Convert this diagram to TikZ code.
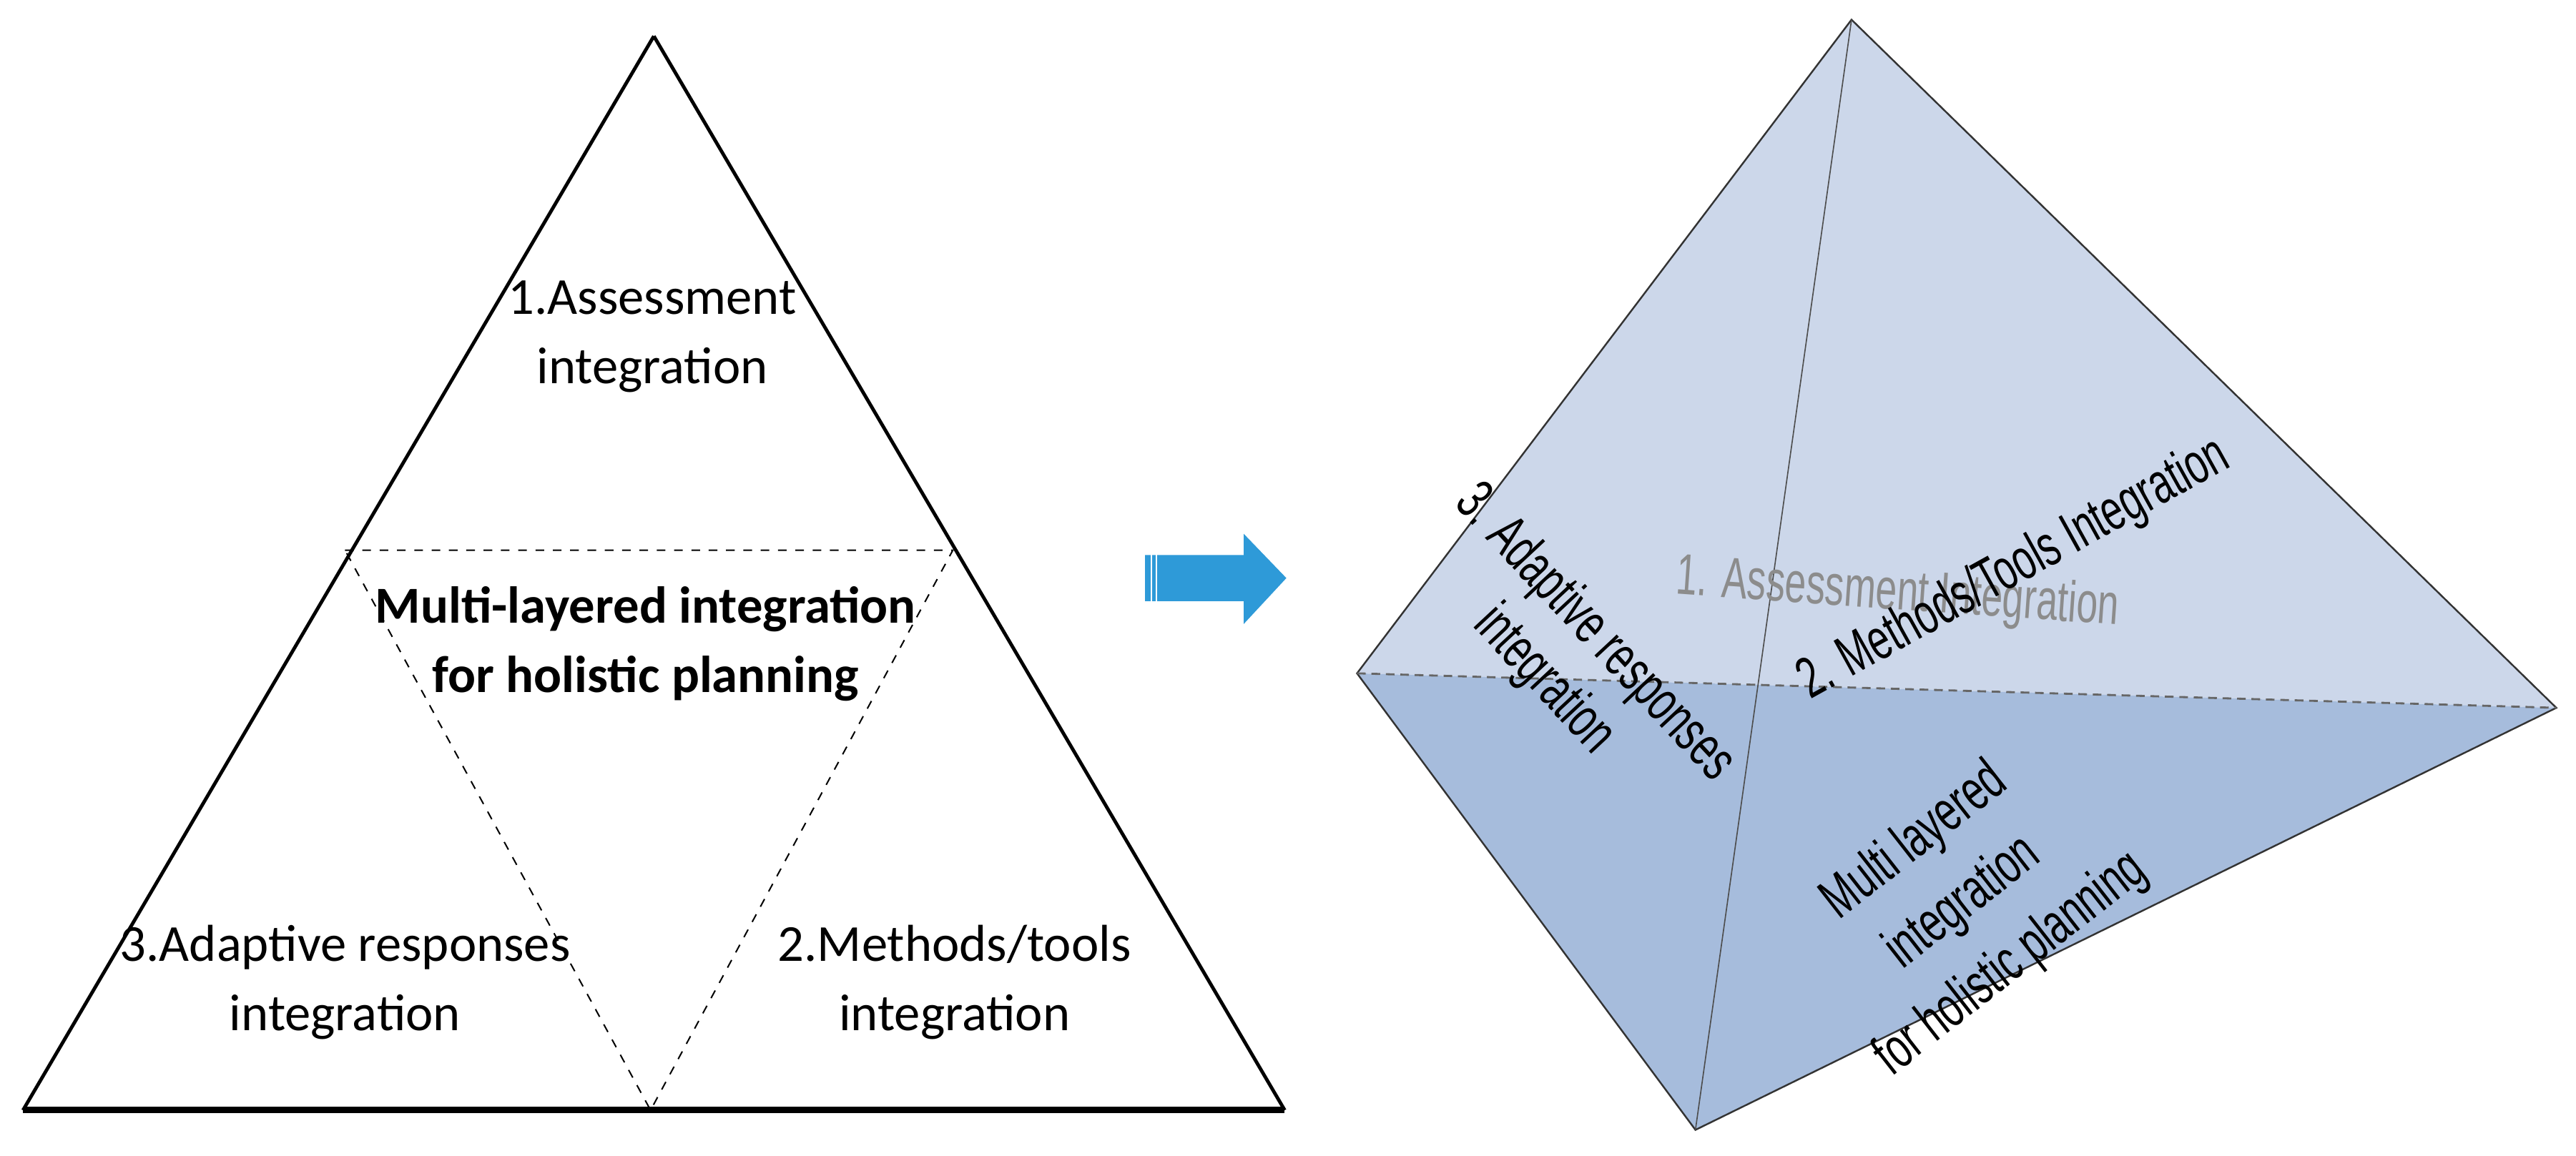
\documentclass[tikz,border=0pt]{standalone}
\usepackage{fontspec}
\setmainfont{Carlito}
\newfontfamily\arialn{Liberation Sans}
\definecolor{lightface}{HTML}{CCD7EA}
\definecolor{darkface}{HTML}{A6BCDC}
\definecolor{arrowblue}{HTML}{2E9AD8}
\newcommand{\nar}[1]{\scalebox{0.66}[1]{#1}}
\begin{document}
\begin{tikzpicture}[x=0.02cm,y=-0.02cm,
  lbl/.style={align=center,font=\fontsize{18}{24}\selectfont},
  pyr/.style={align=center,font=\arialn\fontsize{20}{24}\selectfont,inner sep=1pt},
  edge/.style={draw=black!80,line width=0.6pt}]
\useasboundingbox (0,0) rectangle (1568,703.5);
% left triangle
\coordinate (A) at (398,22);
\coordinate (B) at (14,676);
\coordinate (C) at (782,676);
\coordinate (D) at (210,335);
\coordinate (E) at (580,335);
\coordinate (F) at (396,676);
\draw[line width=1.2pt] (A) -- (B) (A) -- (C);
\draw[line width=2.2pt] (B) -- (C);
\draw[dashed,line width=0.5pt] (D) -- (E) -- (F) -- cycle;
\node[lbl] (t1) at (397,205) {1.Assessment\\integration};
\node[lbl,font=\bfseries\fontsize{18}{24}\selectfont] (tm) at (393,392) {Multi-layered integration\\for holistic planning};
\node[lbl] (t3) at (210,598) {3.Adaptive responses\\integration};
\node[lbl] (t2) at (581,598) {2.Methods/tools\\integration};
% arrow
\fill[arrowblue] (697,338) -- (757,338) -- (757,325) -- (783,352) -- (757,380) -- (757,366) -- (697,366) -- cycle;
\draw[white,line width=0.5pt] (701,338) -- (701,366) (704,338) -- (704,366);
% pyramid
\coordinate (P) at (1127,12);
\coordinate (L) at (826,410);
\coordinate (R) at (1556,431);
\coordinate (Q) at (1032,688);
\fill[lightface] (P) -- (L) -- (R) -- cycle;
\fill[darkface] (L) -- (R) -- (Q) -- cycle;
\draw[edge] (P) -- (L) -- (Q) -- (R) -- cycle;
\draw[black!70,line width=0.4pt] (P) -- (Q);
\draw[black!60,densely dashed,line width=0.7pt] (L) -- (R);
\node[pyr,text=black!45,rotate=-4] (p1) at (1155,362) {\nar{1. Assessment Integration}};
\node[pyr,rotate=29] (p2) at (1226,347) {\nar{2. Methods/Tools Integration}};
\node[pyr,rotate=-47] (p3) at (955,400) {\nar{3. Adaptive responses}\\\nar{integration}};
\node[pyr,rotate=38,font=\arialn\fontsize{20}{27}\selectfont] (p4) at (1195,550) {\nar{Multi layered}\\\nar{integration}\\\nar{for holistic planning}};
\end{tikzpicture}
\end{document}
